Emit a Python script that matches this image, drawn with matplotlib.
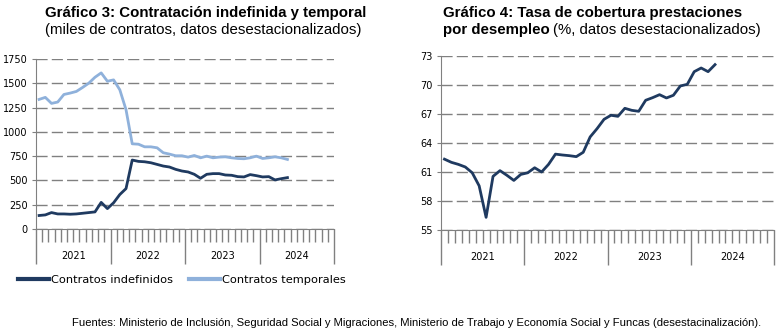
import matplotlib.pyplot as plt
from matplotlib.lines import Line2D
import numpy as np

years = ['2021', '2022', '2023', '2024']

# Gráfico 3: miles de contratos, ene-2021 a may-2024
indefinidos = [139, 145, 169, 155, 155, 152, 155, 162, 169, 176, 274, 210,
               270, 355, 416, 710, 696, 692, 682, 665, 648, 638, 614, 597,
               587, 563, 522, 563, 570, 570, 556, 553, 539, 536, 560, 549,
               536, 539, 505, 518, 529]
temporales = [1334, 1355, 1293, 1307, 1385, 1399, 1416, 1457, 1501, 1562, 1607, 1521,
              1535, 1433, 1228, 877, 873, 846, 846, 836, 785, 771, 754, 754,
              740, 757, 733, 750, 733, 740, 743, 733, 726, 723, 733, 750,
              726, 733, 743, 733, 716]

# Gráfico 4: tasa de cobertura (%), ene-2021 a abr-2024
cobertura = [62.36, 62.03, 61.82, 61.55, 60.95, 59.6, 56.34, 60.58, 61.17, 60.69, 60.16, 60.78,
             60.95, 61.47, 61.03, 61.82, 62.88, 62.79, 62.72, 62.62, 63.07, 64.66, 65.52, 66.48,
             66.9, 66.79, 67.62, 67.41, 67.31, 68.45, 68.72, 69.03, 68.69, 68.97, 69.93, 70.1,
             71.41, 71.79, 71.41, 72.14]

DARK = '#1F3A60'
LIGHT = '#8FB1DB'
GREY = '#808080'
TITLE_FONT = ['Liberation Sans', 'DejaVu Sans']
TITLE_SIZE = 10.8


def style_axes(ax, yticks, ylim):
    ax.set_xlim(0, 48)
    ax.set_ylim(*ylim)
    ax.set_yticks(yticks)
    ax.yaxis.grid(True, color=GREY, linestyle=(0, (8, 3)), linewidth=1)
    ax.set_axisbelow(True)
    for s in ['top', 'right']:
        ax.spines[s].set_visible(False)
    for s in ['left', 'bottom']:
        ax.spines[s].set_color(GREY)
    ax.set_xticks(np.arange(0, 49, 12))
    ax.set_xticks(np.arange(0, 49), minor=True)
    ax.tick_params(axis='x', which='major', length=25, width=1, color=GREY, labelbottom=False)
    ax.tick_params(axis='x', which='minor', length=9, width=1, color=GREY)
    ax.tick_params(axis='y', length=3, color=GREY, labelsize=7, pad=3)
    for i, yr in enumerate(years):
        ax.annotate(yr, xy=(i * 12 + 6, 0), xycoords=ax.get_xaxis_transform(),
                    xytext=(0, -19.5), textcoords='offset points',
                    ha='center', va='center', fontsize=7)


fig = plt.figure(figsize=(7.78, 3.36), dpi=100)
W, H = 778, 336

# contratos
ax1 = fig.add_axes([36 / W, 1 - 229 / H, 298 / W, 170 / H])
x1 = np.arange(len(indefinidos)) + 0.5
ax1.plot(x1, temporales, color=LIGHT, lw=2)
ax1.plot(x1, indefinidos, color=DARK, lw=2)
style_axes(ax1, np.arange(0, 1751, 250), (0, 1750))

# cobertura
ax2 = fig.add_axes([441 / W, 1 - 230.3 / H, 333 / W, 174 / H])
x2 = np.arange(len(cobertura)) + 0.5
ax2.plot(x2, cobertura, color=DARK, lw=2)
style_axes(ax2, [55, 58, 61, 64, 67, 70, 73], (55, 73))

# legend under the first chart
handles = [Line2D([], [], color=DARK, lw=3), Line2D([], [], color=LIGHT, lw=3)]
fig.legend(handles, ['Contratos indefinidos', 'Contratos temporales'],
           loc='center left', bbox_to_anchor=(18 / W, 1 - 280 / H), ncol=2,
           frameon=False, fontsize=8.2, handlelength=2.7, handletextpad=0.2,
           columnspacing=1.4, borderpad=0, borderaxespad=0)

# titles
fig.text(45 / W, 1 - 17.5 / H, 'Gráfico 3: Contratación indefinida y temporal',
         family=TITLE_FONT, fontweight='bold', fontsize=TITLE_SIZE, va='baseline')
fig.text(45 / W, 1 - 34 / H, '(miles de contratos, datos desestacionalizados)',
         family=TITLE_FONT, fontsize=TITLE_SIZE, va='baseline')
fig.text(443 / W, 1 - 17.5 / H, 'Gráfico 4: Tasa de cobertura prestaciones',
         family=TITLE_FONT, fontweight='bold', fontsize=TITLE_SIZE, va='baseline')
t = fig.text(443 / W, 1 - 34 / H, 'por desempleo',
             family=TITLE_FONT, fontweight='bold', fontsize=TITLE_SIZE, va='baseline')
bb = t.get_window_extent(renderer=fig.canvas.get_renderer())
fig.text((bb.x1 + 3) / W, 1 - 34 / H, '(%, datos desestacionalizados)',
         family=TITLE_FONT, fontsize=TITLE_SIZE, va='baseline')

fig.text(72 / W, 1 - 323 / H,
         'Fuentes: Ministerio de Inclusión, Seguridad Social y Migraciones, Ministerio de Trabajo '
         'y Economía Social y Funcas (desestacinalización).',
         family=['Liberation Sans', 'DejaVu Sans'], fontsize=8.1, va='center')

fig.savefig('out.png', dpi=100)
